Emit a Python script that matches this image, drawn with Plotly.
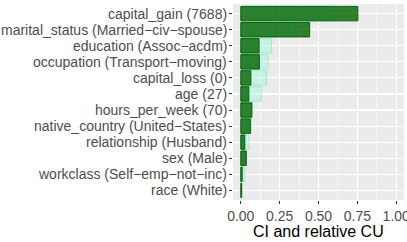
import plotly.graph_objects as go

features = [
    "capital_gain (7688)",
    "marital_status (Married\u2212civ\u2212spouse)",
    "education (Assoc\u2212acdm)",
    "occupation (Transport\u2212moving)",
    "capital_loss (0)",
    "age (27)",
    "hours_per_week (70)",
    "native_country (United\u2212States)",
    "relationship (Husband)",
    "sex (Male)",
    "workclass (Self\u2212emp\u2212not\u2212inc)",
    "race (White)",
]
ci_values = [0.753, 0.443, 0.118, 0.120, 0.065, 0.052, 0.071, 0.062, 0.026, 0.036, 0.009, 0.006]
cu_values = [0.60, 0.35, 0.198, 0.176, 0.166, 0.133, 0.075, 0.067, 0.052, 0.030, 0.026, 0.005]
x_tickvals = [0, 0.25, 0.5, 0.75, 1.0]
x_ticktext = ["0.00", "0.25", "0.50", "0.75", "1.00"]
x_minor = [0.125, 0.375, 0.625, 0.875]
x_title = "CI and relative CU"

FONT = "Liberation Sans, Arial, sans-serif"

fig = go.Figure()
fig.add_trace(go.Bar(
    y=features, x=cu_values, orientation="h", width=0.9,
    marker=dict(color="rgba(127,255,212,0.35)", line=dict(color="rgba(120,225,185,0.5)", width=1)),
    showlegend=False, hoverinfo="skip",
))
fig.add_trace(go.Bar(
    y=features, x=ci_values, orientation="h", width=0.9,
    marker=dict(color="rgba(0,100,0,0.8)", line=dict(color="rgba(0,90,0,0.9)", width=1)),
    showlegend=False, hoverinfo="skip",
))

# y tick labels as annotations so none are auto-hidden
for f in features:
    fig.add_annotation(
        x=0, xref="paper", y=f, yref="y", text=f, showarrow=False,
        xanchor="right", yanchor="middle", xshift=-4,
        font=dict(family=FONT, size=14, color="#4D4D4D"),
    )

fig.add_annotation(
    x=0.5, xref="paper", y=0, yref="paper", text=x_title, showarrow=False,
    xanchor="center", yanchor="middle", yshift=-31,
    font=dict(family=FONT, size=16, color="black"),
)

fig.update_layout(
    width=407, height=242,
    margin=dict(l=233, r=3, t=4, b=42, autoexpand=False),
    barmode="overlay",
    paper_bgcolor="white",
    plot_bgcolor="#EBEBEB",
    font=dict(family=FONT, size=14, color="#4D4D4D"),
    xaxis=dict(
        range=[-0.05, 1.05], automargin=False,
        tickvals=x_tickvals, ticktext=x_ticktext,
        ticklabeloverflow="allow",
        showgrid=True, gridcolor="white", gridwidth=1.1,
        zeroline=False, showline=False,
        ticks="outside", ticklen=3, tickcolor="#333333", tickwidth=1,
        tickfont=dict(size=14, color="#4D4D4D"),
        minor=dict(tickvals=x_minor, showgrid=True, gridcolor="white", gridwidth=0.5, ticks=""),
    ),
    yaxis=dict(
        type="category", automargin=False,
        categoryorder="array", categoryarray=features,
        range=[len(features) - 0.4, -0.6],
        showgrid=True, gridcolor="white", gridwidth=1.1,
        zeroline=False, showline=False, showticklabels=False,
        ticks="outside", ticklen=3, tickcolor="#333333", tickwidth=1,
    ),
)

fig.write_html(
    "out.html",
    config={"displayModeBar": False, "staticPlot": True},
    post_script="document.body.style.margin='0';document.body.style.padding='0';document.body.style.overflow='hidden';",
)
